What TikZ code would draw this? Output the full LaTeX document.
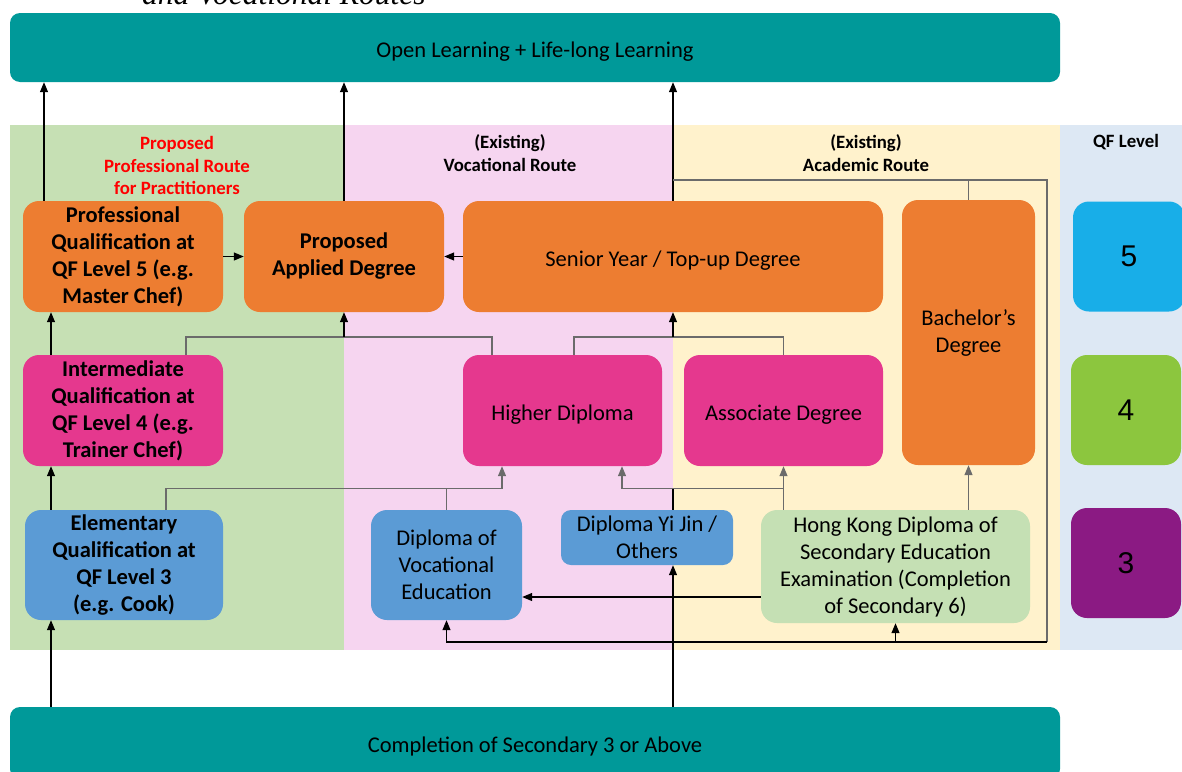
\documentclass[tikz,border=0pt]{standalone}
\usepackage{fontspec}
\setmainfont{Carlito}
\newfontfamily\numfont{Liberation Sans}
\newfontfamily\capserif{Liberation Serif}
\usetikzlibrary{arrows.meta}
\definecolor{tealbar}{HTML}{009999}
\definecolor{orng}{HTML}{ED7D31}
\definecolor{mgnt}{HTML}{E5388E}
\definecolor{blu}{HTML}{5B9BD5}
\definecolor{lgreen}{HTML}{C5E0B4}
\definecolor{pgreen}{HTML}{C6E0B4}
\definecolor{ppink}{HTML}{F6D5F0}
\definecolor{pyellow}{HTML}{FFF2CC}
\definecolor{pblue}{HTML}{DDE8F4}
\definecolor{qfive}{HTML}{18AEE8}
\definecolor{qfour}{HTML}{8CC63E}
\definecolor{qthree}{HTML}{8B1A83}
\definecolor{lnGray}{HTML}{6B6B6B}
\definecolor{redtxt}{HTML}{FF0000}
\newcommand{\lowr}{\rule{0pt}{23pt}}
\tikzset{
  bx/.style={rounded corners=16pt, inner sep=0pt, align=center, draw=none,
    font=\fontsize{22.5}{27}\selectfont, execute at begin node=\lowr},
  bxb/.style={bx, font=\bfseries\fontsize{22.5}{27}\selectfont},
  bar/.style={rounded corners=10pt, fill=tealbar, inner sep=0pt, font=\fontsize{22.5}{26}\selectfont,
    execute at begin node=\lowr},
  qf/.style={rounded corners=16pt, inner sep=0pt, minimum width=110pt, minimum height=110pt,
    font=\numfont\fontsize{30}{30}\selectfont},
  head/.style={align=center, font=\bfseries\fontsize{18.8}{22.5}\selectfont},
  ln/.style={line width=1.2pt, draw=black},
  lg/.style={line width=1.2pt, draw=lnGray},
  arr/.style={-{Triangle[length=10pt,width=8pt]}},
}
\begin{document}
\begin{tikzpicture}[x=1pt,y=-1pt]
\useasboundingbox (0,0) rectangle (1182,771);
% caption, cut off at the top edge as in the reference
\node[anchor=base west, inner sep=0pt, font=\capserif\itshape\fontsize{31.5}{31.5}\selectfont] (cap) at (142,5) {and Vocational Routes};
% panels
\fill[pgreen] (10,125) rectangle (344,650);
\fill[ppink] (344,125) rectangle (673,650);
\fill[pyellow] (673,125) rectangle (1060,650);
\fill[pblue] (1060,125) rectangle (1182,650);
% bars
\node[bar, minimum width=1050pt, minimum height=69pt] (ol) at (535,47.5) {Open Learning + Life-long Learning};
\node[bar, minimum width=1050pt, minimum height=72pt] (cs) at (535,743) {Completion of Secondary 3 or Above};
% headings
\node[head, text=redtxt] (hp) at (177,165.5) {Proposed\\Professional Route\\for Practitioners};
\node[head] (hv) at (510,153) {(Existing)\\Vocational Route};
\node[head] (ha) at (866,153) {(Existing)\\Academic Route};
\node[head] (hq) at (1126,142) {QF Level};
% boxes
\node[bxb, fill=orng, minimum width=200pt, minimum height=111pt] (pq) at (123,256.5) {Professional\\Qualification at\\QF Level 5 (e.g.\\Master Chef)};
\node[bxb, fill=orng, minimum width=200pt, minimum height=111pt] (pad) at (344,256.5) {Proposed\\Applied Degree};
\node[bx, fill=orng, minimum width=420pt, minimum height=111pt] (sy) at (673,256.5) {Senior Year / Top-up Degree};
\node[bx, fill=orng, minimum width=133pt, minimum height=265pt] (bd) at (968.5,332.5) {Bachelor's\\Degree};
\node[bxb, fill=mgnt, minimum width=200pt, minimum height=111pt] (iq) at (123,410.5) {Intermediate\\Qualification at\\QF Level 4 (e.g.\\Trainer Chef)};
\node[bx, fill=mgnt, minimum width=199pt, minimum height=111pt] (hd) at (562.5,410.5) {Higher Diploma};
\node[bx, fill=mgnt, minimum width=199pt, minimum height=111pt] (ad) at (783.5,410.5) {Associate Degree};
\node[bxb, fill=blu, minimum width=198pt, minimum height=110pt] (eq) at (124,565) {Elementary\\Qualification at\\QF Level 3\\(e.g. Cook)};
\node[bx, fill=blu, minimum width=151pt, minimum height=110pt] (dve) at (446.5,565) {Diploma of\\Vocational\\Education};
\node[bx, fill=blu, rounded corners=10pt, minimum width=172pt, minimum height=55pt] (yj) at (647,537.5) {Diploma Yi Jin /\\Others};
\node[bx, fill=lgreen, minimum width=269pt, minimum height=113pt] (hk) at (895.5,566.5) {Hong Kong Diploma of\\Secondary Education\\Examination (Completion\\of Secondary 6)};
% QF levels
\node[qf, fill=qfive, minimum width=112pt] (q5) at (1129,256.5) {5};
\node[qf, fill=qfour] (q4) at (1126,410) {4};
\node[qf, fill=qthree] (q3) at (1126,563) {3};
% helper coordinates
\coordinate (X44) at (44,0);
\coordinate (X51) at (51,0);
\coordinate (X166) at (166,0);
\coordinate (X186) at (186,0);
\coordinate (X492) at (492,0);
\coordinate (X502) at (502,0);
\coordinate (X574) at (574,0);
\coordinate (X622) at (622,0);
\coordinate (X673) at (673,0);
\coordinate (X1047) at (1047,0);
\coordinate (Y180) at (0,180);
\coordinate (Y337) at (0,337);
\coordinate (Y488) at (0,488.5);
\coordinate (Y597) at (0,597);
\coordinate (Y642) at (0,642);
% connectors to top bar
\draw[ln,arr] (pq.north -| X44) -- (ol.south -| X44);
\draw[ln,arr] (pad.north) -- (ol.south -| pad.north);
\draw[ln,arr] (sy.north) -- (ol.south -| sy.north);
% bachelor / loop
\draw[lg] (bd.north) -- (bd.north |- Y180);
\draw[lg] (sy.north |- Y180) -- (X1047 |- Y180) -- (X1047 |- Y642);
\draw[ln,arr] (X1047 |- Y642) -| (dve.south);
\draw[ln,arr] (hk.south |- Y642) -- (hk.south);
% level 5 row
\draw[ln,arr] (sy.west) -- (pad.east);
\draw[ln,arr] (pq.east) -- (pad.west);
% level 4 -> 5
\draw[ln,arr] (iq.north -| X51) -- (pq.south -| X51);
\draw[lg] (iq.north -| X186) |- (Y337 -| X492) -- (hd.north -| X492);
\draw[ln,arr] (pad.south |- Y337) -- (pad.south);
\draw[lg] (hd.north -| X574) |- (Y337 -| ad.north) -- (ad.north);
\draw[ln,arr] (sy.south |- Y337) -- (sy.south);
% level 3 -> 4
\draw[ln,arr] (eq.north -| X51) -- (iq.south -| X51);
\draw[lg] (eq.north -| X166) |- (Y488 -| X502);
\draw[lg,arr] (Y488 -| X502) -- (hd.south -| X502);
\draw[lg] (dve.north) -- (dve.north |- Y488);
\draw[lg] (hk.north -| ad.south) |- (Y488 -| X622);
\draw[lg,arr] (Y488 -| X622) -- (hd.south -| X622);
\draw[lg,arr] (hk.north -| ad.south) -- (ad.south);
\draw[ln] (yj.north -| X673) -- (Y488 -| X673);
\draw[lg,arr] (hk.north -| bd.south) -- (bd.south);
\draw[ln,arr] (hk.west |- Y597) -- (dve.east |- Y597);
% from bottom bar
\draw[ln,arr] (cs.north -| X51) -- (eq.south -| X51);
\draw[ln,arr] (cs.north -| X673) -- (yj.south -| X673);
\end{tikzpicture}
\end{document}
